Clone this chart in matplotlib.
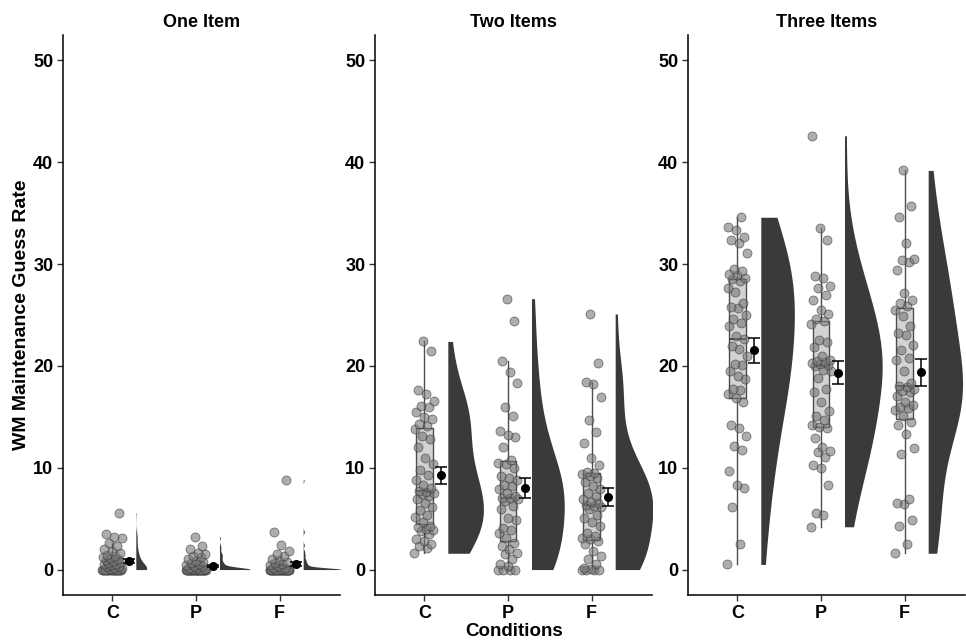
import numpy as np
import matplotlib
matplotlib.use("Agg")
import matplotlib.pyplot as plt

plt.rcParams['font.family'] = ['Liberation Sans', 'DejaVu Sans']
plt.rcParams['font.weight'] = 'bold'

panels = ["One Item", "Two Items", "Three Items"]
conditions = ["C", "P", "F"]

# guess rates (one list per facet / condition)
one_c = [0, 0, 0, 0, 0, 0, 0, 0, 0, 0, 0, 0, 0, 0, 0, 0, 0, 0, 0, 0,
         0.1, 0.2, 0.2, 0.3, 0.3, 0.4, 0.5, 0.5, 0.6, 0.7, 0.8, 0.9, 1.0,
         1.1, 1.2, 1.3, 1.4, 1.6, 1.8, 2.0, 2.3, 2.6, 3.1, 3.2, 3.5, 5.6]
one_p = [0, 0, 0, 0, 0, 0, 0, 0, 0, 0, 0, 0, 0, 0, 0, 0, 0, 0, 0, 0,
         0, 0, 0, 0, 0, 0, 0, 0,
         0.1, 0.1, 0.2, 0.2, 0.3, 0.3, 0.4, 0.5, 0.6, 0.7, 0.8, 1.0, 1.2,
         1.3, 1.5, 1.6, 2.0, 2.3, 3.2]
one_f = [0, 0, 0, 0, 0, 0, 0, 0, 0, 0, 0, 0, 0, 0, 0, 0, 0, 0, 0, 0,
         0, 0, 0, 0, 0, 0, 0, 0, 0, 0,
         0.1, 0.2, 0.2, 0.3, 0.4, 0.5, 0.6, 0.7, 0.9, 1.0, 1.3, 1.5, 1.8,
         2.4, 3.7, 8.8]

two_c = [1.6, 2.1, 2.3, 2.5, 2.8, 3.0, 3.5, 3.8, 3.9, 4.0, 4.2, 4.3, 4.7,
         5.2, 5.4, 5.8, 6.1, 6.5, 6.9, 7.2, 7.4, 7.5, 7.6, 7.7, 8.0, 8.3,
         8.8, 9.3, 9.8, 10.4, 11.0, 12.0, 12.8, 13.1, 13.8, 14.1, 14.3,
         14.8, 15.0, 15.5, 16.0, 16.1, 16.6, 17.2, 17.6, 21.5, 22.4]
two_p = [0, 0, 0, 0, 0.3, 0.5, 1.0, 1.5, 1.6, 2.0, 2.3, 2.6, 3.1, 3.6, 3.9,
         4.1, 4.9, 5.1, 5.9, 6.2, 6.7, 6.9, 7.0, 7.0, 7.2, 7.5, 7.9, 8.2,
         8.3, 8.8, 9.0, 9.2, 10.0, 10.4, 10.5, 10.8, 12.0, 13.0, 13.2, 13.6,
         15.1, 16.0, 18.3, 19.4, 20.5, 24.4, 26.6]
two_f = [0, 0, 0, 0, 0.1, 0.2, 0.5, 1.0, 1.3, 1.8, 2.5, 2.8, 3.0, 3.1, 3.3,
         3.6, 4.3, 4.7, 5.1, 5.4, 5.9, 6.1, 6.2, 6.3, 6.5, 6.6, 6.9, 7.2,
         7.5, 7.9, 8.2, 8.6, 9.0, 9.2, 9.4, 9.5, 9.6, 10.3, 11.0, 12.4,
         13.5, 14.7, 16.9, 18.2, 18.4, 20.3, 25.1]

three_c = [0.5, 2.5, 6.1, 8.0, 8.3, 9.7, 11.7, 12.1, 13.1, 13.9, 14.2, 16.5,
           16.8, 17.2, 17.6, 17.7, 18.7, 19.0, 19.5, 20.1, 20.2, 21.0, 21.7,
           22.0, 22.6, 22.9, 23.9, 24.2, 24.6, 25.0, 25.7, 25.8, 26.2, 27.3,
           27.7, 28.3, 28.5, 28.6, 28.9, 29.0, 29.3, 29.5, 31.1, 32.1, 32.4,
           32.7, 33.3, 33.6, 34.6]
three_p = [4.2, 5.4, 5.6, 8.3, 10.0, 10.3, 11.1, 11.5, 11.6, 12.0, 12.9, 13.9,
           14.0, 14.2, 14.7, 15.1, 15.6, 16.5, 17.4, 17.7, 18.8, 19.5, 19.6,
           20.0, 20.1, 20.2, 20.3, 20.4, 20.5, 20.6, 21.0, 21.9, 22.3, 22.5,
           24.1, 24.4, 24.6, 25.1, 25.5, 26.5, 27.0, 27.7, 27.8, 28.6, 28.8,
           32.4, 33.5, 42.6]
three_f = [1.6, 2.5, 4.3, 4.9, 6.4, 6.5, 6.9, 11.3, 11.9, 13.3, 14.2, 14.5,
           15.1, 15.7, 15.9, 16.0, 16.2, 16.5, 17.0, 17.4, 17.5, 17.7, 17.9,
           18.0, 18.3, 19.5, 20.6, 20.8, 21.6, 22.1, 23.0, 23.2, 23.9, 24.9,
           25.5, 25.9, 26.2, 26.5, 27.2, 29.4, 30.2, 30.4, 30.5, 32.1, 34.6,
           35.7, 39.2]

data = [[one_c, one_p, one_f], [two_c, two_p, two_f], [three_c, three_p, three_f]]


def nrd0(x):
    # same rule of thumb as R's bw.nrd0
    hi = x.std(ddof=1)
    q75, q25 = np.percentile(x, [75, 25])
    lo = min(hi, (q75 - q25) / 1.34)
    if lo == 0:
        lo = hi
    return 0.9 * lo * len(x) ** -0.2


def density(vals, adjust=1.3):
    x = np.asarray(vals, float)
    bw = nrd0(x) * adjust
    grid = np.linspace(x.min(), x.max(), 512)
    d = np.exp(-0.5 * ((grid[:, None] - x[None, :]) / bw) ** 2).sum(axis=1)
    d /= len(x) * bw * np.sqrt(2 * np.pi)
    return grid, d


fig = plt.figure(figsize=(9.66, 6.42), dpi=100)
lefts = [63, 375, 688]

for left, title, groups in zip(lefts, panels, data):
    ax = fig.add_axes([left / 966, 47 / 642, 277 / 966, 560 / 642])
    dens = [density(g) for g in groups]
    top = max(d.max() for _, d in dens)

    for i, (vals, (grid, d)) in enumerate(zip(groups, dens)):
        x = i + 1
        vals = np.asarray(vals, float)

        # half violin
        ax.fill_betweenx(grid, x + 0.28, x + 0.28 + 0.45 * d / top,
                         color='#3a3a3a', lw=0, zorder=1)

        ax.boxplot(vals, positions=[x], widths=0.2, patch_artist=True,
                   showfliers=False, showcaps=False, manage_ticks=False,
                   boxprops=dict(facecolor='#d3d3d3', edgecolor='#4d4d4d', lw=1),
                   medianprops=dict(color='#333333', lw=1.2),
                   whiskerprops=dict(color='#4d4d4d', lw=1),
                   zorder=2)

        jit = ((np.arange(len(vals)) * 0.618034) % 1 - 0.5) * 0.24
        ax.scatter(x + jit, vals, s=42, c='#777777', alpha=0.6,
                   edgecolors='#333333', linewidths=0.6, zorder=3)

        m = vals.mean()
        se = vals.std(ddof=1) / np.sqrt(len(vals))
        ax.errorbar(x + 0.2, m, yerr=se, fmt='o', color='black', ms=5.5,
                    capsize=4, elinewidth=1.1, capthick=1.1, zorder=4)

    ax.set_xlim(0.41, 3.72)
    ax.set_ylim(-2.5, 52.5)
    ax.set_xticks([1, 2, 3])
    ax.set_xticklabels(conditions)
    ax.set_yticks([0, 10, 20, 30, 40, 50])
    ax.tick_params(labelsize=13, length=4, width=1, color='#333333', pad=3)
    for side in ['top', 'right']:
        ax.spines[side].set_visible(False)
    for side in ['left', 'bottom']:
        ax.spines[side].set_linewidth(1.1)
    ax.set_title(title, fontsize=13, fontweight='bold', pad=6)

fig.text(22 / 966, 1 - 315 / 642, "WM Maintenance Guess Rate", rotation=90,
         ha='center', va='center', fontsize=14, fontweight='bold')
fig.text(514 / 966, 1 - 632 / 642, "Conditions", ha='center', va='center',
         fontsize=13.5, fontweight='bold')

fig.savefig("out.png", dpi=100)
